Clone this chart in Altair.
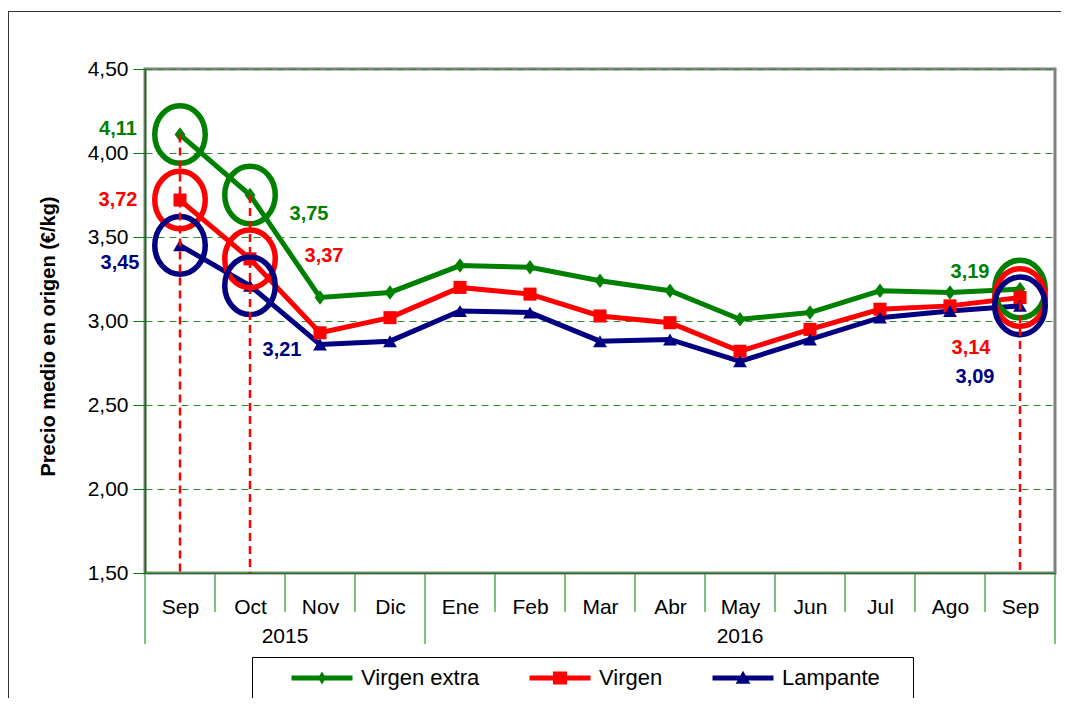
import json
import altair as alt
import pandas as pd

# ---------------- data ----------------
months = ["Sep", "Oct", "Nov", "Dic", "Ene", "Feb", "Mar", "Abr", "May", "Jun", "Jul", "Ago", "Sep"]
years = ["2015", "2015", "2015", "2015", "2016", "2016", "2016", "2016", "2016", "2016", "2016", "2016", "2016"]
series_names = ["Virgen extra", "Virgen", "Lampante"]
virgen_extra = [4.11, 3.75, 3.14, 3.17, 3.33, 3.32, 3.24, 3.18, 3.01, 3.05, 3.18, 3.17, 3.19]
virgen = [3.72, 3.37, 2.93, 3.02, 3.20, 3.16, 3.03, 2.99, 2.82, 2.95, 3.07, 3.09, 3.14]
lampante = [3.45, 3.21, 2.86, 2.88, 3.06, 3.05, 2.88, 2.89, 2.76, 2.89, 3.02, 3.06, 3.09]
highlight_months = [0, 1, 12]
y_ticks = [1.5, 2.0, 2.5, 3.0, 3.5, 4.0, 4.5]

# ---------------- styles ----------------
colors = ["#008000", "#FF0000", "#000080"]
GRID = "#2f8f2f"
FONT = "Liberation Sans"
W, H = 910, 504

# label offsets (pixels) : (series index, month index, dx, dy)
label_style = [
    (0, 0, -62, -6), (1, 0, -62, 0), (2, 0, -60, 18),
    (0, 1, 59, 19), (1, 1, 74, -3), (2, 1, 32, 64),
    (0, 12, -50, -17), (1, 12, -49, 51), (2, 12, -45, 71),
]

rows = []
for name, vals in zip(series_names, [virgen_extra, virgen, lampante]):
    for i, v in enumerate(vals):
        rows.append({"i": i, "mes": months[i], "serie": name, "precio": v,
                     "etiqueta": f"{v:.2f}".replace(".", ",")})
df = pd.DataFrame(rows)

# category boundaries
bounds = [k - 0.5 for k in range(len(months) + 1)]
year_bounds = [-0.5] + [k - 0.5 for k in range(1, len(years)) if years[k] != years[k - 1]] + [len(months) - 0.5]
month_bounds = [b for b in bounds if b not in year_bounds]
year_list = []
for y in dict.fromkeys(years):
    idx = [k for k, yy in enumerate(years) if yy == y]
    year_list.append({"i": (idx[0] + idx[-1]) / 2, "year": y})
df_years = pd.DataFrame(year_list)

x_axis = alt.Axis(values=list(range(len(months))),
                  labelExpr=f"{json.dumps(months)}[datum.value]",
                  ticks=False, tickSize=0, grid=False,
                  domainColor="#008000", domainWidth=1,
                  labelFontSize=21, labelColor="black", labelPadding=23,
                  labelFlush=False, labelOverlap=False, title=None)
y_axis = alt.Axis(values=y_ticks,
                  labelExpr="replace(format(datum.value, '.2f'), '.', ',')",
                  tickColor="#008000", tickSize=12, tickWidth=1,
                  domainColor="#008000", domainWidth=1.5,
                  grid=True, gridColor=GRID, gridDash=[7, 5], gridWidth=1,
                  labelFontSize=21, labelColor="black", labelPadding=5,
                  title="Precio medio en origen (€/kg)", titleFontSize=20,
                  titleFontWeight="bold", titleColor="black",
                  titleX=-87, titleY=267)

xs = alt.Scale(domain=[-0.5, len(months) - 0.5], nice=False, zero=False)
ys = alt.Scale(domain=[1.5, 4.5], nice=False, zero=False)


def X():
    return alt.X("i:Q", scale=xs, axis=x_axis)


def Y(field="precio"):
    return alt.Y(f"{field}:Q", scale=ys, axis=y_axis)


color_scale = alt.Scale(domain=series_names, range=colors)

# legend symbol paths (line + marker); unit = sqrt(symbolSize)/2 = 10.5 px
line_p = "M-2.905,-0.24H2.905V0.24H-2.905Z"
leg_paths = [
    line_p + "M0,-0.62L0.38,0L0,0.62L-0.38,0Z",
    line_p + "M-0.67,-0.62H0.67V0.62H-0.67Z",
    line_p + "M0,-0.7L0.7,0.55H-0.7Z",
]
legend = alt.Legend(orient="none", legendX=107, legendY=588, direction="horizontal",
                    title="xxxx", titleOrient="right", titlePadding=0, titleFontSize=10,
                    titleColor="white",
                    symbolSize=441, symbolOffset=49, labelOffset=28, columnPadding=20,
                    padding=10, strokeColor="black", fillColor="white",
                    labelFontSize=22, labelColor="black", symbolStrokeWidth=0,
                    symbolOpacity=1)

marker_shapes = ["M0,-1L0.75,0L0,1L-0.75,0Z", "square", "triangle-up"]
marker_sizes = [210, 170, 190]
ellipse = "M-1,0A1,1.14 0 1,0 1,0A1,1.14 0 1,0 -1,0Z"

sep_month = alt.Chart(pd.DataFrame({"i": month_bounds})).mark_rule(
    color="#008000", strokeWidth=1).encode(x=X(), y=alt.value(H), y2=alt.value(H + 39))
sep_year = alt.Chart(pd.DataFrame({"i": year_bounds})).mark_rule(
    color="#008000", strokeWidth=1).encode(x=X(), y=alt.value(H), y2=alt.value(H + 71))
year_text = alt.Chart(df_years).mark_text(fontSize=21, baseline="alphabetic", color="black").encode(
    x=X(), y=alt.value(H + 70), text="year:N")

df_hi = df[df["i"].isin(highlight_months)]

line_layers, point_layers, circle_layers = [], [], []
for s, name in enumerate(series_names):
    d = df[df["serie"] == name]
    line_layers.append(alt.Chart(d).mark_line(strokeWidth=5, color=colors[s]).encode(x=X(), y=Y()))
    point_layers.append(
        alt.Chart(d).mark_point(filled=True, size=marker_sizes[s], opacity=1,
                                shape=marker_shapes[s], color=colors[s]).encode(x=X(), y=Y()))
    circle_layers.append(
        alt.Chart(df_hi[df_hi["serie"] == name]).mark_point(
            filled=False, shape=ellipse, size=2550, strokeWidth=5.5, opacity=1,
            color=colors[s]).encode(x=X(), y=Y()))

# invisible layer that only provides the legend
legend_layer = alt.Chart(df).mark_point(filled=True, opacity=0).encode(
    x=X(), y=Y(),
    color=alt.Color("serie:N", scale=color_scale, legend=legend),
    shape=alt.Shape("serie:N", scale=alt.Scale(domain=series_names, range=leg_paths),
                    legend=legend))

df_top = df_hi[df_hi["serie"] == series_names[0]]
red_rules = alt.Chart(df_top).mark_rule(color="#FF0000", strokeWidth=2.5, strokeDash=[8, 5]).encode(
    x=X(), y=Y(), y2=alt.datum(1.5))

labels = []
for s, m, dx, dy in label_style:
    d = df[(df["serie"] == series_names[s]) & (df["i"] == m)]
    labels.append(alt.Chart(d).mark_text(dx=dx, dy=dy, fontSize=20, fontWeight="bold",
                                         color=colors[s], align="center", baseline="middle").encode(
        x=X(), y=Y(), text="etiqueta:N"))

frame_left = alt.Chart(pd.DataFrame({"k": [0]})).mark_rule(color="#333333", strokeWidth=1).encode(
    x=alt.value(-136.5), y=alt.value(-58), y2=alt.value(H + 125))
frame_top = alt.Chart(pd.DataFrame({"k": [0]})).mark_rule(color="#333333", strokeWidth=1).encode(
    x=alt.value(-137), x2=alt.value(W + 30), y=alt.value(-57.5))

chart = alt.layer(sep_month, sep_year, year_text, *line_layers, *point_layers, legend_layer,
                  *circle_layers, red_rules, *labels, frame_left, frame_top).properties(
    width=W, height=H,
    autosize=alt.AutoSizeParams(type="none"),
    padding={"left": 137, "top": 61, "right": 6, "bottom": 125},
).configure(font=FONT).configure_view(stroke="#808080", strokeWidth=3).configure_axisY(
    gridColor=GRID, gridDash=[7, 5])

chart.save("out.html", embed_options={"renderer": "svg", "actions": False})
